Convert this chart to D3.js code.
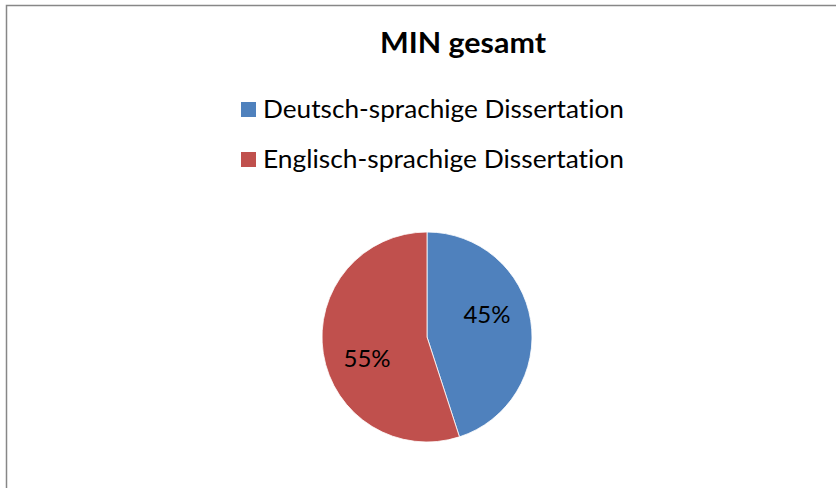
<!DOCTYPE html>
<html>
<head>
<meta charset="utf-8">
<script src="https://cdn.jsdelivr.net/npm/d3@7"></script>
<style>
html, body { margin: 0; padding: 0; background: #fff; }
svg { display: block; }
text { font-family: Lato, "Open Sans", sans-serif; font-variant-ligatures: none; font-feature-settings: "liga" 0, "clig" 0; }
</style>
</head>
<body>
<svg id="chart" width="836" height="488"></svg>
<script>
const categories = ["Deutsch-sprachige Dissertation", "Englisch-sprachige Dissertation"];
const values = [45, 55];
const labels = ["45%", "55%"];
const colors = ["#4F81BD", "#C0504D"];
const title = "MIN gesamt";

const svg = d3.select("#chart");
const W = 836, H = 488;

// frame
svg.append("path")
  .attr("d", `M6.5,${H} L6.5,5.5 L${W + 2},5.5`)
  .attr("fill", "none").attr("stroke", "#878787").attr("stroke-width", 1.5);

// title
svg.append("text")
  .attr("x", 463).attr("y", 53)
  .attr("text-anchor", "middle")
  .attr("font-size", 29).attr("font-weight", "bold")
  .attr("textLength", 166).attr("lengthAdjust", "spacingAndGlyphs")
  .attr("fill", "#000")
  .text(title);

// legend
const legY = d3.scalePoint().domain(categories).range([118, 168]);
const leg = svg.append("g");
categories.forEach((c, i) => {
  leg.append("rect")
    .attr("x", 241).attr("y", legY(c) - 16)
    .attr("width", 15).attr("height", 15)
    .attr("fill", colors[i]);
  leg.append("text")
    .attr("x", 263).attr("y", legY(c))
    .attr("font-size", 25.5).attr("fill", "#000")
    .attr("textLength", 361).attr("lengthAdjust", "spacingAndGlyphs")
    .text(c);
});

// pie
const cx = 427, cy = 337, r = 105;
const pie = d3.pie().sort(null).value(d => d)(values);
const arc = d3.arc().innerRadius(0).outerRadius(r);
const g = svg.append("g").attr("transform", `translate(${cx},${cy})`);
g.selectAll("path.slice").data(pie).enter().append("path")
  .attr("class", "slice")
  .attr("d", arc)
  .attr("fill", (d, i) => colors[i])
  .attr("stroke", "#fff").attr("stroke-width", 0.8);

// data labels
const labelR = 64, angShift = -0.2;
g.selectAll("text.lbl").data(pie).enter().append("text")
  .attr("class", "lbl")
  .attr("x", d => labelR * Math.sin((d.startAngle + d.endAngle) / 2 + angShift))
  .attr("y", d => -labelR * Math.cos((d.startAngle + d.endAngle) / 2 + angShift))
  .attr("dy", "0.33em")
  .attr("text-anchor", "middle")
  .attr("font-size", 24).attr("fill", "#000")
  .text((d, i) => labels[i]);
</script>
</body>
</html>
